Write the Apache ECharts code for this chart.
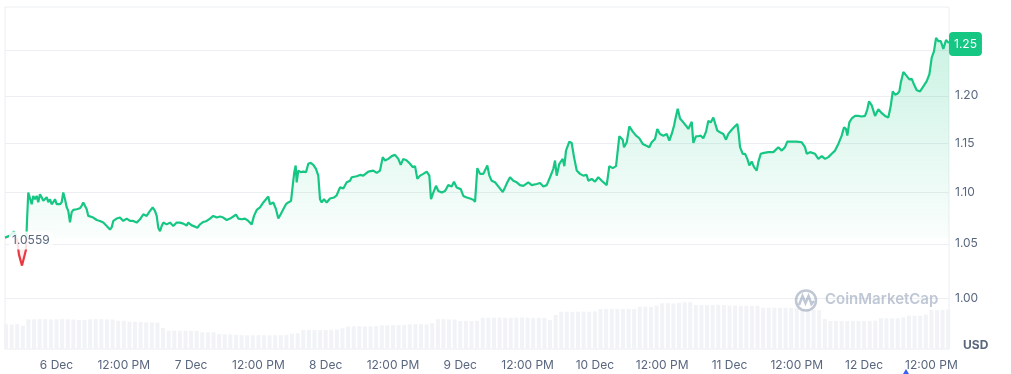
<!DOCTYPE html>
<html><head><meta charset="utf-8">
<script src="https://cdn.jsdelivr.net/npm/echarts@6/dist/echarts.min.js"></script>
<style>html,body{margin:0;padding:0;background:#fff}#c{width:1011px;height:374px}</style>
</head><body><div id="c"></div>
<script>
// hours relative to 6 Dec 00:00
const hours=[
-9.18,-8.29,-7.58,-7.04,-6.69,-6.15,-5.80,-5.44,-5.26,-5.03,
-4.73,-4.42,-4.14,-3.83,-3.53,-3.25,-2.94,-2.64,-2.35,-2.05,
-1.75,-1.46,-1.16,-0.86,-0.57,-0.27,0.04,0.32,0.62,0.93,
1.21,1.52,1.82,2.10,2.41,2.71,3.00,3.30,3.60,3.89,
4.19,4.49,4.78,5.08,5.39,5.67,5.97,6.56,7.17,7.76,
8.35,8.95,9.54,9.84,10.13,10.73,11.32,11.91,12.52,13.11,
13.69,14.30,14.89,15.48,16.08,16.67,17.15,17.56,17.87,18.15,
18.46,18.76,19.04,19.65,20.24,20.83,21.43,22.02,22.61,23.22,
23.50,24.11,24.70,25.11,25.59,26.18,26.78,27.37,27.96,28.57,
29.15,29.74,30.35,30.94,31.53,32.01,32.42,33.02,33.61,34.20,
34.81,35.22,35.70,36.29,36.88,37.36,37.77,38.07,38.66,39.14,
39.55,39.98,40.44,40.92,41.33,41.82,42.12,42.40,42.65,42.83,
43.12,43.55,44.01,44.49,44.90,45.33,45.79,46.27,46.68,46.99,
47.29,47.70,48.18,48.77,49.48,49.96,50.55,51.14,51.75,52.34,
52.64,53.53,54.12,54.71,55.60,56.49,57.10,57.69,58.17,58.58,
59.17,59.77,60.36,60.95,61.38,61.84,62.45,63.04,63.52,63.93,
64.34,64.82,65.41,66.01,66.48,66.78,67.19,67.67,68.08,68.69,
69.28,69.86,70.47,70.88,71.36,72.08,72.54,73.15,73.73,74.32,
74.63,75.04,75.52,76.11,76.82,77.18,77.60,78.19,78.78,79.57,
79.98,80.39,80.87,81.46,82.06,82.65,83.24,84.13,84.74,85.63,
86.22,86.81,87.41,88.00,88.59,88.89,89.19,89.66,90.26,90.55,
90.85,91.44,91.86,92.28,92.76,93.35,93.94,94.54,94.83,95.43,
96.02,96.61,97.22,98.11,98.57,99.18,99.77,100.36,100.96,101.19,
101.68,102.14,102.75,103.34,103.92,104.53,105.11,105.70,106.13,106.72,
107.13,107.61,108.20,108.81,109.27,109.70,110.11,110.47,110.77,111.18,
111.77,112.25,112.66,113.27,113.55,114.03,114.44,114.87,115.33,115.82,
116.23,116.65,117.12,117.42,117.83,118.31,118.90,119.38,119.79,120.40,
120.99,121.40,121.65,121.88,122.36,122.77,123.18,123.54,123.96,124.38,
124.86,125.14,125.57,126.16,126.93,127.82,128.71,129.32,129.90,130.31,
131.10,131.99,132.88,133.47,133.77,134.36,135.25,135.84,136.45,137.04,
137.63,138.23,138.82,139.41,140.01,140.42,140.78,141.01,141.37,141.80,
142.39,142.97,143.58,144.17,144.58,144.88,145.36,145.95,146.54,147.15,
147.74,148.32,148.75,149.11,149.52,149.93,150.29,150.54,151.00,151.61,
152.07,152.50,152.91,153.39,153.98,154.57,155.17,155.64,156.06,156.47,
156.83,157.24,157.67,158.13,158.61,159.14];

const prices=[
1.0559,1.0578,1.0618,1.0539,1.0398,1.0296,1.0370,1.0444,1.0716,1.0997,
1.0980,1.0882,1.0964,1.0931,1.0964,1.0902,1.0980,1.0951,1.0915,1.0902,
1.0951,1.0902,1.0931,1.0882,1.0902,1.0931,1.0882,1.0866,1.0882,1.0902,
1.0997,1.0931,1.0853,1.0817,1.0706,1.0804,1.0826,1.0817,1.0833,1.0817,
1.0843,1.0866,1.0899,1.0915,1.0833,1.0768,1.0762,1.0752,1.0728,1.0719,
1.0703,1.0670,1.0637,1.0657,1.0719,1.0742,1.0752,1.0719,1.0742,1.0719,
1.0719,1.0703,1.0735,1.0784,1.0768,1.0817,1.0850,1.0817,1.0768,1.0654,
1.0621,1.0670,1.0703,1.0686,1.0703,1.0670,1.0703,1.0703,1.0693,1.0676,
1.0703,1.0676,1.0664,1.0654,1.0686,1.0709,1.0719,1.0742,1.0768,1.0752,
1.0762,1.0752,1.0728,1.0742,1.0762,1.0781,1.0742,1.0735,1.0742,1.0719,
1.0686,1.0768,1.0826,1.0850,1.0899,1.0931,1.0958,1.0882,1.0899,1.0833,
1.0742,1.0784,1.0833,1.0882,1.0899,1.0915,1.1064,1.1201,1.1268,1.1099,
1.1217,1.1201,1.1207,1.1201,1.1286,1.1296,1.1275,1.1235,1.1166,1.0931,
1.0899,1.0931,1.0899,1.0938,1.0948,1.0970,1.1048,1.1038,1.1099,1.1115,
1.1150,1.1160,1.1173,1.1166,1.1207,1.1217,1.1194,1.1217,1.1354,1.1319,
1.1336,1.1364,1.1377,1.1336,1.1275,1.1336,1.1319,1.1286,1.1252,1.1262,
1.1133,1.1166,1.1184,1.1207,1.1166,1.0931,1.0997,1.1064,1.1013,1.0997,
1.1013,1.1071,1.1058,1.1105,1.1048,1.1031,1.0964,1.0948,1.0938,1.0925,
1.0905,1.1242,1.1184,1.1184,1.1268,1.1166,1.1115,1.1099,1.1058,1.1003,
1.1048,1.1099,1.1150,1.1115,1.1099,1.1071,1.1064,1.1099,1.1071,1.1082,
1.1092,1.1058,1.1071,1.1150,1.1235,1.1319,1.1166,1.1286,1.1336,1.1262,
1.1421,1.1514,1.1500,1.1354,1.1217,1.1184,1.1166,1.1173,1.1115,1.1133,
1.1105,1.1150,1.1115,1.1071,1.1262,1.1242,1.1262,1.1570,1.1534,1.1456,
1.1507,1.1674,1.1618,1.1576,1.1549,1.1490,1.1473,1.1456,1.1507,1.1542,
1.1646,1.1594,1.1576,1.1594,1.1524,1.1594,1.1680,1.1784,1.1861,1.1757,
1.1715,1.1680,1.1646,1.1722,1.1500,1.1570,1.1570,1.1576,1.1549,1.1618,
1.1732,1.1715,1.1767,1.1750,1.1628,1.1611,1.1594,1.1534,1.1594,1.1638,
1.1674,1.1698,1.1594,1.1456,1.1388,1.1388,1.1336,1.1268,1.1309,1.1252,
1.1217,1.1303,1.1388,1.1398,1.1405,1.1405,1.1456,1.1421,1.1456,1.1514,
1.1514,1.1514,1.1507,1.1456,1.1388,1.1405,1.1388,1.1336,1.1364,1.1336,
1.1354,1.1388,1.1421,1.1490,1.1576,1.1663,1.1646,1.1576,1.1715,1.1757,
1.1784,1.1784,1.1778,1.1784,1.1854,1.1941,1.1896,1.1784,1.1854,1.1813,
1.1784,1.1767,1.1889,1.2048,1.2011,1.2022,1.2048,1.2141,1.2259,1.2214,
1.2178,1.2185,1.2122,1.2059,1.2048,1.2103,1.2159,1.2233,1.2419,1.2492,
1.2644,1.2606,1.2606,1.2519,1.2617,1.2585];

const baselinePrice=1.0559;

// hourly volume (arbitrary units), first bar at hour -9
const volumeStartHour=-9;
const volumes=[
24.7,24.5,24.8,23.3,29.6,29.7,29.8,29.7,29.6,
29.7,29.8,29.7,29.5,29.0,29.2,29.7,29.8,29.7,29.6,
29.5,28.3,28.2,27.3,27.2,27.0,26.6,26.5,26.4,21.0,
18.3,18.4,18.3,18.2,18.3,18.1,16.7,16.6,16.7,14.8,
14.7,14.6,14.2,13.7,13.6,13.7,13.8,13.7,13.6,13.7,
13.8,14.2,15.3,15.8,19.0,19.1,19.0,18.8,19.0,19.2,
19.5,20.7,22.6,22.7,22.8,22.7,22.6,22.9,23.6,23.7,
23.8,23.7,23.9,24.6,24.7,24.8,24.6,26.0,29.7,29.8,
29.6,29.5,28.0,28.1,27.8,28.3,31.3,31.2,31.3,31.4,
31.3,31.2,31.3,31.5,31.3,31.1,31.3,31.2,29.0,34.0,
37.3,37.4,37.2,37.3,37.5,37.3,37.6,39.8,40.0,40.1,
40.0,39.9,40.2,40.0,42.3,42.4,42.3,43.5,45.7,45.8,
45.6,46.2,46.7,46.8,44.0,44.1,43.9,44.0,44.2,44.0,
43.3,43.4,43.2,43.3,43.1,43.3,41.3,41.4,41.2,41.3,
41.3,41.1,41.0,39.0,39.1,38.9,39.0,30.0,28.0,28.1,
28.0,27.9,28.0,28.1,28.0,28.2,28.4,30.7,30.8,30.6,
30.7,31.5,33.3,33.4,33.2,34.5,39.0,38.8,39.2,39.5];

const yTickValues=[1.00,1.05,1.10,1.15,1.20,1.25];
const xTickHours=[0,12,24,36,48,60,72,84,96,108,120,132,144,156];
const monthName='Dec';
const firstDay=6;

function xLabel(h){
  if(h%24===0) return (firstDay+h/24)+' '+monthName;
  return '12:00 PM';
}

const lastHour=hours[hours.length-1];
const lastPrice=prices[prices.length-1];
const maxPrice=Math.max.apply(null,prices);
const priceData=hours.map((h,i)=>[h,prices[i]]);
const volData=volumes.map((v,i)=>[volumeStartHour+i,v]);
const FONT='Inter, "Noto Sans", sans-serif';
const GREEN='#16c784', RED='#ea3943';

const chart=echarts.init(document.getElementById('c'),null,{renderer:'canvas'});
chart.setOption({
  animation:false,
  textStyle:{fontFamily:FONT},
  grid:{left:5,right:62,top:7,bottom:25,show:true,borderColor:'#eceef1',borderWidth:1},
  xAxis:{type:'value',min:hours[0],max:lastHour,
    axisLine:{show:false},axisTick:{show:false,customValues:xTickHours},splitLine:{show:false},
    axisLabel:{customValues:xTickHours,formatter:xLabel,color:'#58667e',fontSize:12,margin:10,fontFamily:FONT}},
  yAxis:[
    {type:'log',logBase:10,position:'right',min:0.955,max:1.30,
     axisLine:{show:false},axisTick:{show:false,customValues:yTickValues},
     splitLine:{show:true,lineStyle:{color:'#eceef1',width:1}},
     axisLabel:{customValues:yTickValues,formatter:v=>Number(v).toFixed(2),color:'#58667e',fontSize:12,margin:6,fontFamily:FONT}},
    {type:'value',min:0,max:342,show:false,splitLine:{show:false}}
  ],
  series:[
    {id:'price',type:'line',data:priceData,yAxisIndex:0,symbol:'none',z:3,
     lineStyle:{width:2.2,color:GREEN},
     areaStyle:{origin:baselinePrice,color:'rgba(22,199,132,0.1)'},
     markPoint:{silent:true,animation:false,symbol:'circle',symbolSize:0.01,itemStyle:{color:'rgba(0,0,0,0)'},
       data:[
        {coord:[hours[0],baselinePrice],
         label:{show:true,position:'right',distance:4,formatter:baselinePrice.toFixed(4),
           backgroundColor:'rgba(255,255,255,0.85)',color:'#58667e',fontSize:12,padding:[3,3],borderRadius:4,fontFamily:FONT,offset:[0,3]}},
        {coord:[lastHour,lastPrice],
         label:{show:true,position:'right',distance:0,formatter:(Math.floor(lastPrice*100)/100).toFixed(2),
           backgroundColor:GREEN,color:'#fff',fontSize:12,padding:[6,5,6,5],borderRadius:4,fontFamily:FONT,offset:[0,1]}}
       ]}
    },
    {type:'bar',data:volData,yAxisIndex:1,barWidth:4,silent:true,z:1,itemStyle:{color:'#f1f3f6'}}
  ],
  graphic:[
    {type:'circle',shape:{cx:806,cy:300.5,r:10},style:{fill:'none',stroke:'rgba(150,162,185,0.6)',lineWidth:2.5},z:10},
    {type:'polyline',shape:{points:[[799,305],[802.5,296],[805.5,303],[808.5,296],[811.5,304],[814,301]]},style:{fill:'none',stroke:'rgba(150,162,185,0.6)',lineWidth:2.5},z:10},
    {type:'text',left:825,top:292,style:{text:'CoinMarketCap',fill:'rgba(150,162,185,0.6)',font:'600 15px '+FONT},z:10},
    {type:'text',left:963,top:339,style:{text:'USD',fill:'#58667e',font:'bold 12px '+FONT},z:10},
    {type:'polygon',shape:{points:[[903,374],[906,369],[909,374]]},style:{fill:'#3861fb'},z:10}
  ]
});

// colour split at the baseline, positioned through the axis scale
const yBase=chart.convertToPixel({yAxisIndex:0},baselinePrice);
const yTop=chart.convertToPixel({yAxisIndex:0},maxPrice);
const H=374;
const b=yBase/H, t=yTop/H;
chart.setOption({series:[{id:'price',
  lineStyle:{color:{type:'linear',x:0,y:0,x2:0,y2:H,global:true,colorStops:[
    {offset:0,color:GREEN},{offset:b,color:GREEN},{offset:b,color:RED},{offset:1,color:RED}]}},
  areaStyle:{origin:baselinePrice,color:{type:'linear',x:0,y:0,x2:0,y2:H,global:true,colorStops:[
    {offset:0,color:'rgba(22,199,132,0.34)'},{offset:t,color:'rgba(22,199,132,0.32)'},
    {offset:b,color:'rgba(22,199,132,0.03)'},{offset:b,color:'rgba(234,57,67,0.06)'},
    {offset:Math.min(1,b+0.08),color:'rgba(234,57,67,0.18)'},{offset:1,color:'rgba(234,57,67,0.18)'}]}}
}]});
</script></body></html>
